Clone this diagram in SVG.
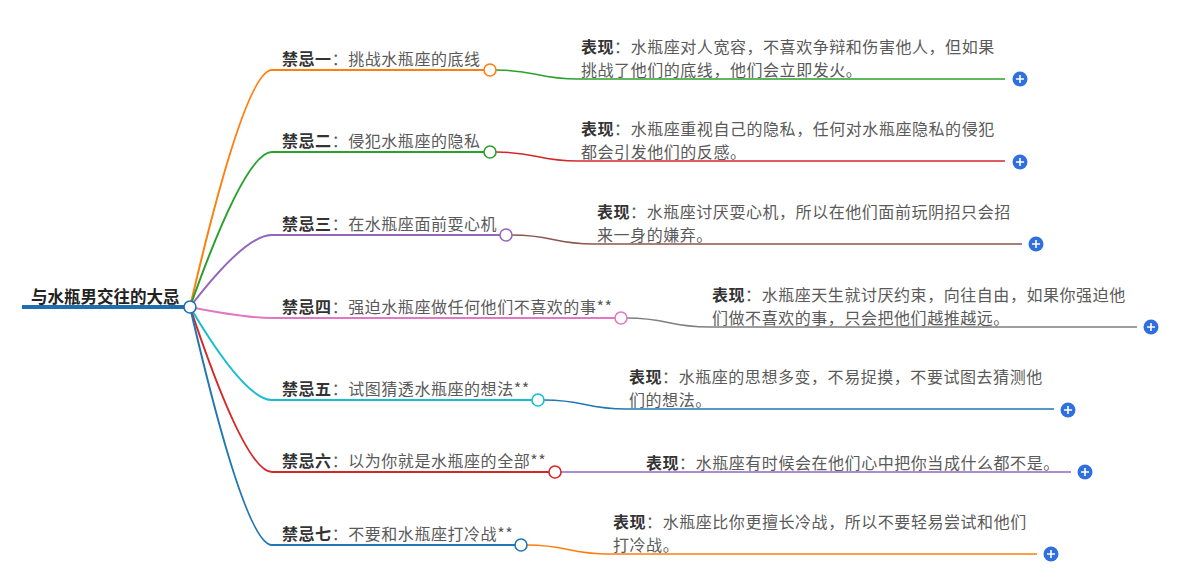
<svg xmlns="http://www.w3.org/2000/svg" width="1190" height="588" viewBox="0 0 1190 588">
<style>
text{font-family:"Noto Sans CJK SC","Liberation Sans",sans-serif;font-size:16px;fill:#5a5a5a;letter-spacing:0.55px}
.b{font-weight:bold;fill:#333}
.root{font-weight:bold;fill:#222;font-size:16.5px;letter-spacing:0}
.l1{fill:none;stroke-width:2}
.l2{fill:none;stroke-width:1.5}
.dot{fill:#fff;stroke-width:1.6}
.plus{fill:#2f6fe0}
.pl{stroke:#fff;stroke-width:1.6}
</style>
<rect width="1190" height="588" fill="#fff"/>
<g id="connectors">
<path class="l1" stroke="#ff7f0e" d="M190,307 Q245,70 272,70 H484"/>
<path class="l1" stroke="#2ca02c" d="M190,307 Q245,152 272,152 H484"/>
<path class="l1" stroke="#9467bd" d="M190,307 Q245,235 272,235 H500"/>
<path class="l1" stroke="#e377c2" d="M190,307 Q245,318 272,318 H615"/>
<path class="l1" stroke="#17becf" d="M190,307 Q245,400 272,400 H532"/>
<path class="l1" stroke="#d62728" d="M190,307 Q245,472 272,472 H549"/>
<path class="l1" stroke="#1f77b4" d="M190,307 Q245,545 272,545 H515"/>
<path class="l2" stroke="#2ca02c" d="M496,70 C537,70 537,79 578,79 H1005"/>
<path class="l2" stroke="#d62728" d="M496,152 C537,152 537,161 578,161 H1005"/>
<path class="l2" stroke="#8c564b" d="M512,235 C553,235 553,244 594,244 H1022"/>
<path class="l2" stroke="#7f7f7f" d="M627,318 C668,318 668,327 709,327 H1137"/>
<path class="l2" stroke="#1f77b4" d="M544,400 C585,400 585,409 626,409 H1054"/>
<path class="l2" stroke="#9467bd" d="M561,472 H1071"/>
<path class="l2" stroke="#ff7f0e" d="M527,545 C568,545 568,554 609,554 H1037"/>
</g>
<g id="root">
<line x1="22" y1="307" x2="184" y2="307" stroke="#1f6fb0" stroke-width="4"/>
<text class="root" x="31" y="303">与水瓶男交往的大忌</text>
<circle class="dot" cx="190" cy="307" r="6" stroke="#1f6fb0"/>
</g>
<g id="n1">
<text x="282" y="65"><tspan class="b">禁忌一</tspan>：挑战水瓶座的底线</text>
<circle class="dot" cx="490" cy="70" r="6" stroke="#ff7f0e"/>
</g>
<g id="n2">
<text x="282" y="147"><tspan class="b">禁忌二</tspan>：侵犯水瓶座的隐私</text>
<circle class="dot" cx="490" cy="152" r="6" stroke="#2ca02c"/>
</g>
<g id="n3">
<text x="282" y="230"><tspan class="b">禁忌三</tspan>：在水瓶座面前耍心机</text>
<circle class="dot" cx="506" cy="235" r="6" stroke="#9467bd"/>
</g>
<g id="n4">
<text x="282" y="313"><tspan class="b">禁忌四</tspan>：强迫水瓶座做任何他们不喜欢的事**</text>
<circle class="dot" cx="621" cy="318" r="6" stroke="#e377c2"/>
</g>
<g id="n5">
<text x="282" y="395"><tspan class="b">禁忌五</tspan>：试图猜透水瓶座的想法**</text>
<circle class="dot" cx="538" cy="400" r="6" stroke="#17becf"/>
</g>
<g id="n6">
<text x="282" y="467"><tspan class="b">禁忌六</tspan>：以为你就是水瓶座的全部**</text>
<circle class="dot" cx="555" cy="472" r="6" stroke="#d62728"/>
</g>
<g id="n7">
<text x="282" y="540"><tspan class="b">禁忌七</tspan>：不要和水瓶座打冷战**</text>
<circle class="dot" cx="521" cy="545" r="6" stroke="#1f77b4"/>
</g>
<g id="c1">
<text x="581" y="53"><tspan class="b">表现</tspan>：水瓶座对人宽容，不喜欢争辩和伤害他人，但如果</text>
<text x="581" y="76">挑战了他们的底线，他们会立即发火。</text>
<circle class="plus" cx="1020" cy="79" r="7.5"/><path class="pl" d="M1016,79 H1024 M1020,75 V83"/>
</g>
<g id="c2">
<text x="581" y="135"><tspan class="b">表现</tspan>：水瓶座重视自己的隐私，任何对水瓶座隐私的侵犯</text>
<text x="581" y="158">都会引发他们的反感。</text>
<circle class="plus" cx="1020" cy="162" r="7.5"/><path class="pl" d="M1016,162 H1024 M1020,158 V166"/>
</g>
<g id="c3">
<text x="597" y="218"><tspan class="b">表现</tspan>：水瓶座讨厌耍心机，所以在他们面前玩阴招只会招</text>
<text x="597" y="241">来一身的嫌弃。</text>
<circle class="plus" cx="1036" cy="244" r="7.5"/><path class="pl" d="M1032,244 H1040 M1036,240 V248"/>
</g>
<g id="c4">
<text x="712" y="301"><tspan class="b">表现</tspan>：水瓶座天生就讨厌约束，向往自由，如果你强迫他</text>
<text x="712" y="324">们做不喜欢的事，只会把他们越推越远。</text>
<circle class="plus" cx="1151" cy="327" r="7.5"/><path class="pl" d="M1147,327 H1155 M1151,323 V331"/>
</g>
<g id="c5">
<text x="629" y="383"><tspan class="b">表现</tspan>：水瓶座的思想多变，不易捉摸，不要试图去猜测他</text>
<text x="629" y="406">们的想法。</text>
<circle class="plus" cx="1068" cy="410" r="7.5"/><path class="pl" d="M1064,410 H1072 M1068,406 V414"/>
</g>
<g id="c6">
<text x="646" y="469"><tspan class="b">表现</tspan>：水瓶座有时候会在他们心中把你当成什么都不是。</text>
<circle class="plus" cx="1085" cy="472" r="7.5"/><path class="pl" d="M1081,472 H1089 M1085,468 V476"/>
</g>
<g id="c7">
<text x="613" y="528"><tspan class="b">表现</tspan>：水瓶座比你更擅长冷战，所以不要轻易尝试和他们</text>
<text x="613" y="551">打冷战。</text>
<circle class="plus" cx="1051" cy="554" r="7.5"/><path class="pl" d="M1047,554 H1055 M1051,550 V558"/>
</g>
</svg>
